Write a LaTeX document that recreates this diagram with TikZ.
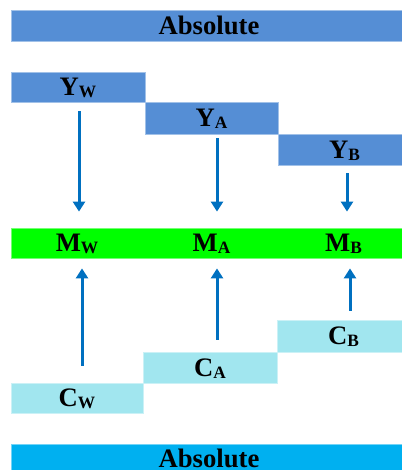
\documentclass[tikz,border=0pt]{standalone}
\usepackage{fontspec}
\setmainfont{Liberation Serif}
\usetikzlibrary{arrows.meta}
\definecolor{barblue}{RGB}{85,142,213}
\definecolor{bargreen}{RGB}{0,255,0}
\definecolor{barcyan}{RGB}{161,230,239}
\definecolor{botblue}{RGB}{0,176,240}
\definecolor{arrowblue}{RGB}{0,112,192}
\newcommand\mysub[1]{\raisebox{-1.5pt}{\fontsize{13}{13}\selectfont #1}}
\begin{document}
\begin{tikzpicture}[x=0.75pt,y=-0.75pt,
  box/.style={rectangle, inner sep=0pt, fill=#1, draw=#1!55!white, line width=0.6pt,
    font=\fontsize{20}{24}\selectfont\bfseries, text height=13.2pt, text depth=0pt},
  lbl/.style={inner sep=0pt, font=\fontsize{20}{24}\selectfont\bfseries, text height=13.2pt, text depth=0pt},
  arr/.style={draw=arrowblue, line width=2.25pt, -{Triangle[width=9pt,length=7.5pt]}}]
\useasboundingbox (0,0) rectangle (401,470);
\fill[white] (0,0) rectangle (401,470);
% bars
\node[box=barblue, minimum width=396*0.75pt, minimum height=31*0.75pt] (top) at (209,25.5) {Absolute};
\node[box=bargreen, minimum width=396*0.75pt, minimum height=30*0.75pt] (M) at (209,243) {};
\node[box=botblue, minimum width=396*0.75pt, minimum height=30*0.75pt] (bot) at (209,459) {Absolute};
% Y boxes
\node[box=barblue, minimum width=134*0.75pt, minimum height=30*0.75pt] (Yw) at (78,87) {Y\mysub{W}};
\node[box=barblue, minimum width=133*0.75pt, minimum height=32*0.75pt] (Ya) at (211.5,118) {Y\mysub{A}};
\node[box=barblue, minimum width=133*0.75pt, minimum height=31*0.75pt] (Yb) at (344.5,149.5) {Y\mysub{B}};
% M labels
\node[lbl] (Mw) at (77,243) {M\mysub{W}};
\node[lbl] (Ma) at (211.5,243) {M\mysub{A}};
\node[lbl] (Mb) at (343.5,243) {M\mysub{B}};
% C boxes
\node[box=barcyan, minimum width=132*0.75pt, minimum height=30*0.75pt] (Cw) at (77,398) {C\mysub{W}};
\node[box=barcyan, minimum width=134*0.75pt, minimum height=31*0.75pt] (Ca) at (210,367.5) {C\mysub{A}};
\node[box=barcyan, minimum width=133*0.75pt, minimum height=32*0.75pt] (Cb) at (343.5,336) {C\mysub{B}};
% down arrows
\draw[arr, shorten <=9*0.75pt, shorten >=16*0.75pt] ([xshift=0.75pt]Yw.south) -- ([xshift=0.75pt]Yw.south |- M.north);
\draw[arr, shorten <=4*0.75pt, shorten >=16*0.75pt] ([xshift=5.5*0.75pt]Ya.south) -- ([xshift=5.5*0.75pt]Ya.south |- M.north);
\draw[arr, shorten <=8*0.75pt, shorten >=16*0.75pt] ([xshift=2.5*0.75pt]Yb.south) -- ([xshift=2.5*0.75pt]Yb.south |- M.north);
% up arrows
\draw[arr, shorten <=17*0.75pt, shorten >=10*0.75pt] ([xshift=5*0.75pt]Cw.north) -- ([xshift=5*0.75pt]Cw.north |- M.south);
\draw[arr, shorten <=12*0.75pt, shorten >=10*0.75pt] ([xshift=7*0.75pt]Ca.north) -- ([xshift=7*0.75pt]Ca.north |- M.south);
\draw[arr, shorten <=9*0.75pt, shorten >=10*0.75pt] ([xshift=6.5*0.75pt]Cb.north) -- ([xshift=6.5*0.75pt]Cb.north |- M.south);
\end{tikzpicture}
\end{document}
